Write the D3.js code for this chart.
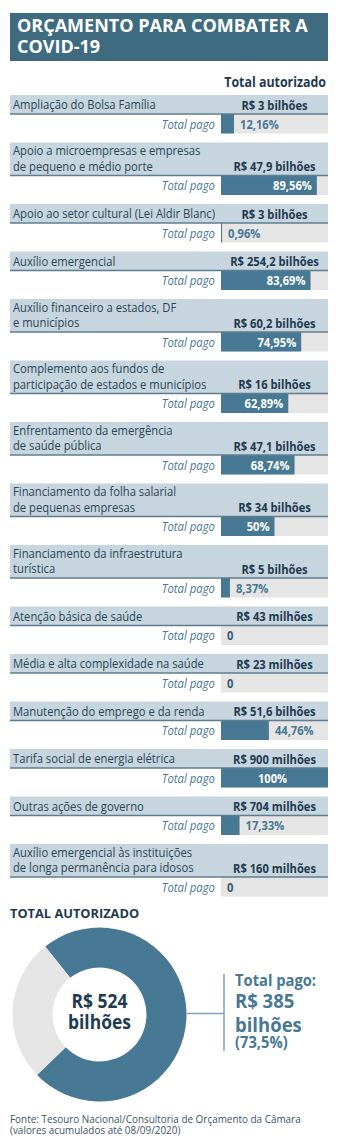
<!DOCTYPE html>
<html>
<head>
<meta charset="utf-8">
<script src="https://cdn.jsdelivr.net/npm/d3@7"></script>
<style>
  body { margin: 0; background: #fff; }
  text { font-family: "Open Sans", sans-serif; }
</style>
</head>
<body>
<div class="chart"></div>
<script>
// rótulos (| = quebra de linha)
const labels = [
  "Ampliação do Bolsa Família",
  "Apoio a microempresas e empresas|de pequeno e médio porte",
  "Apoio ao setor cultural (Lei Aldir Blanc)",
  "Auxílio emergencial",
  "Auxílio financeiro a estados, DF|e municípios",
  "Complemento aos fundos de|participação de estados e municípios",
  "Enfrentamento da emergência|de saúde pública",
  "Financiamento da folha salarial|de pequenas empresas",
  "Financiamento da infraestrutura|turística",
  "Atenção básica de saúde",
  "Média e alta complexidade na saúde",
  "Manutenção do emprego e da renda",
  "Tarifa social de energia elétrica",
  "Outras ações de governo",
  "Auxílio emergencial às instituições|de longa permanência para idosos"
];
const autorizado = [
  "R$ 3 bilhões", "R$ 47,9 bilhões", "R$ 3 bilhões", "R$ 254,2 bilhões",
  "R$ 60,2 bilhões", "R$ 16 bilhões", "R$ 47,1 bilhões", "R$ 34 bilhões",
  "R$ 5 bilhões", "R$ 43 milhões", "R$ 23 milhões", "R$ 51,6 bilhões",
  "R$ 900 milhões", "R$ 704 milhões", "R$ 160 milhões"
];
const pago = [12.16, 89.56, 0.96, 83.69, 74.95, 62.89, 68.74, 50, 8.37, 0, 0, 44.76, 100, 17.33, 0];

const totalAutorizado = 524;   // R$ bilhões
const totalPago = 385;         // R$ bilhões
const totalPagoPct = 73.5;

const width = 342, height = 1140;
const teal = "#477894", band = "#c7d5de", track = "#e5e5e5", navy = "#1e3a50";
const SX = 0.865; // fonte condensada dos rótulos
const SXB = 0.86; // negrito condensado

const svg = d3.select(".chart").append("svg")
    .attr("width", width)
    .attr("height", height);

function txt(g, x, y, s, size, weight, fill, anchor, sx, style) {
  return g.append("text")
      .attr("transform", `translate(${x},${y}) scale(${sx},1)`)
      .attr("font-size", size + "px")
      .attr("font-weight", weight)
      .attr("font-style", style || "normal")
      .attr("fill", fill)
      .attr("text-anchor", anchor)
      .text(s);
}

// várias linhas num só <text>: ys = linhas de base
function txtLines(g, x, ys, lines, size, weight, fill, anchor, sx, sizes) {
  const t = g.append("text")
      .attr("transform", `translate(${x},0) scale(${sx},1)`)
      .attr("font-size", size + "px")
      .attr("font-weight", weight)
      .attr("fill", fill)
      .attr("text-anchor", anchor);
  lines.forEach((s, i) => {
    const ts = t.append("tspan").attr("x", 0).attr("y", ys[i]).text(s);
    if (sizes) ts.attr("font-size", sizes[i] + "px");
  });
  return t;
}

// título
svg.append("rect")
    .attr("x", 10).attr("y", 13)
    .attr("width", 318).attr("height", 48)
    .attr("fill", "#3e6b80");
txtLines(svg, 17, [31.7, 53.3], ["ORÇAMENTO PARA COMBATER A", "COVID-19"], 18, 700, "#fff", "start", 1);

txt(svg, 326, 86.5, "Total autorizado", 14, 700, navy, "end", 0.885);

// layout das linhas
const rows = labels.map((l, i) => ({label: l.split("|"), valor: autorizado[i], pct: pago[i]}));
const bandH = n => n > 1 ? 33 : 19, payH = 19.5, gap = 9;
let yy = 95;
rows.forEach(r => { r.top = yy; r.bh = bandH(r.label.length); yy += r.bh + payH + gap; });

const x = d3.scaleLinear().domain([0, 100]).range([221, 328]);
const fmt = d3.formatLocale({decimal: ",", thousands: ".", grouping: [3], currency: ["R$ ", ""]});
const pctLabel = v => v === 0 ? "0" : (Number.isInteger(v) ? v + "%" : fmt.format(".2f")(v) + "%");

const row = svg.selectAll("g.row")
  .data(rows)
  .join("g")
    .attr("class", "row")
    .attr("transform", d => `translate(0,${d.top})`);

row.append("rect")
    .attr("x", 10).attr("width", 318)
    .attr("height", d => d.bh)
    .attr("fill", band);

row.append("rect")
    .attr("x", x(0)).attr("y", d => d.bh)
    .attr("width", x(100) - x(0)).attr("height", payH)
    .attr("fill", track);

row.append("rect")
    .attr("x", x(0)).attr("y", d => d.bh)
    .attr("width", d => x(d.pct) - x(0)).attr("height", payH)
    .attr("fill", teal);

row.append("line")
    .attr("x1", 10).attr("x2", 328)
    .attr("y1", d => d.bh).attr("y2", d => d.bh)
    .attr("stroke", "#5e7e90").attr("stroke-width", 1.3);

row.each(function(d) {
  const g = d3.select(this);
  const base = d.bh - 4.5;
  const ys = d.label.map((s, j) => base - (d.label.length - 1 - j) * 15.7);
  txtLines(g, 13, ys, d.label, 13, 400, "#2a4556", "start", SX);
  txt(g, (x(0) + x(100)) / 2, base, d.valor, 13, 700, navy, "middle", SXB);
  const py = d.bh + 14.8;
  txt(g, 215, py, "Total pago", 13, 400, "#4a7893", "end", 0.874, "italic");
  if (d.pct === 100) {
    txt(g, (x(0) + x(100)) / 2 - 2, py, pctLabel(d.pct), 13, 700, "#fff", "middle", SXB);
  } else if (d.pct >= 50) {
    txt(g, x(d.pct) - 5, py, pctLabel(d.pct), 13, 700, "#fff", "end", SXB);
  } else {
    txt(g, x(d.pct) + 6, py, pctLabel(d.pct), 13, 700, d.pct === 0 ? "#2f5a73" : teal, "start", SXB);
  }
});

// total autorizado (rosca)
txt(svg, 10, 918.3, "TOTAL AUTORIZADO", 12.8, 700, navy, "start", 1);

const cx = 99.5, cy = 1014.5;
const start = -38.6 * Math.PI / 180;
const pie = d3.pie().sort(null).startAngle(start).endAngle(start + 2 * Math.PI);
const arc = d3.arc().innerRadius(47).outerRadius(87);
const donut = svg.append("g").attr("transform", `translate(${cx},${cy})`);
donut.selectAll("path")
  .data(pie([totalPago, totalAutorizado - totalPago]))
  .join("path")
    .attr("d", arc)
    .attr("fill", (d, i) => i === 0 ? teal : track);

txtLines(svg, cx, [1007.7, 1029.5], [`R$ ${totalAutorizado}`, "bilhões"], 19, 700, navy, "middle", 0.92);

svg.append("line")
    .attr("x1", cx + 87).attr("x2", 224)
    .attr("y1", 1013.5).attr("y2", 1013.5)
    .attr("stroke", "#7fa3b7").attr("stroke-width", 1.5);
svg.append("line")
    .attr("x1", 224).attr("x2", 224)
    .attr("y1", 974).attr("y2", 1051)
    .attr("stroke", "#7fa3b7").attr("stroke-width", 1.5);

txtLines(svg, 235, [986, 1008, 1032, 1048.5],
    ["Total pago:", `R$ ${totalPago}`, "bilhões", `(${fmt.format(".1f")(totalPagoPct)}%)`],
    19.5, 700, teal, "start", 0.95, [15.5, 19.5, 19.5, 15.5]);

// fonte
txtLines(svg, 10, [1122.7, 1134.5],
    ["Fonte: Tesouro Nacional/Consultoria de Orçamento da Câmara", "(valores acumulados até 08/09/2020)"],
    10.5, 400, "#3b5566", "start", 0.945);
</script>
</body>
</html>
